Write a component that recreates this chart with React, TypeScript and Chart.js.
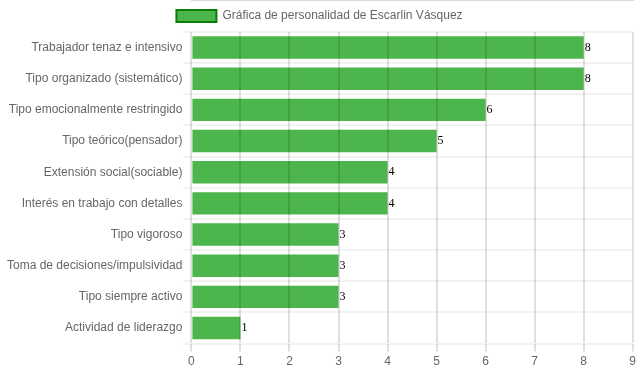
import React, { useEffect, useRef } from "react";
import { Chart, registerables } from "chart.js";

Chart.register(...registerables);

const categories = [
  "Trabajador tenaz e intensivo",
  "Tipo organizado (sistemático)",
  "Tipo emocionalmente restringido",
  "Tipo teórico(pensador)",
  "Extensión social(sociable)",
  "Interés en trabajo con detalles",
  "Tipo vigoroso",
  "Toma de decisiones/impulsividad",
  "Tipo siempre activo",
  "Actividad de liderazgo",
];
const values = [8, 8, 6, 5, 4, 4, 3, 3, 3, 1];
const seriesLabel = "Gráfica de personalidad de Escarlin Vásquez";

const valueLabels = {
  id: "valueLabels",
  afterDraw(chart: any) {
    const ctx = chart.ctx;
    const meta = chart.getDatasetMeta(0);
    ctx.save();
    ctx.fillStyle = "#000";
    ctx.font = "12px 'Liberation Serif', serif";
    ctx.textAlign = "left";
    ctx.textBaseline = "middle";
    meta.data.forEach((bar: any, i: number) => {
      ctx.fillText(String(chart.data.datasets[0].data[i]), bar.x + 1, bar.y);
    });
    ctx.restore();
  },
};

const font = { family: "'Liberation Sans', Arial, sans-serif", size: 12 };

export default function App() {
  const ref = useRef<HTMLCanvasElement>(null);
  useEffect(() => {
    if (!ref.current) return;
    const chart = new Chart(ref.current, {
      type: "bar",
      data: {
        labels: categories,
        datasets: [
          {
            label: seriesLabel,
            data: values,
            backgroundColor: "#4cb64c",
            borderColor: "#0b7d0b",
            borderWidth: 0,
            barPercentage: 0.9,
            categoryPercentage: 0.8,
          },
        ],
      },
      options: {
        indexAxis: "y",
        animation: false,
        responsive: false,
        maintainAspectRatio: false,
        layout: { padding: { left: 6, right: 6, top: 0, bottom: 0 } },
        plugins: {
          legend: {
            display: true,
            position: "top",
            labels: {
              boxWidth: 40,
              boxHeight: 12,
              color: "#666",
              font,
              generateLabels: () => [
                {
                  text: seriesLabel,
                  fillStyle: "#4cb64c",
                  strokeStyle: "#0b7d0b",
                  lineWidth: 2,
                  datasetIndex: 0,
                  fontColor: "#666",
                },
              ],
            },
          },
          tooltip: { enabled: false },
        },
        scales: {
          x: {
            min: 0,
            max: 9,
            ticks: { stepSize: 1, color: "#666", font },
            grid: { color: "rgba(0,0,0,0.12)", lineWidth: 2, z: 1 },
            border: { color: "rgba(0,0,0,0.3)", width: 1 },
          },
          y: {
            ticks: { color: "#666", font, padding: 1 },
            grid: { color: "rgba(0,0,0,0.05)", lineWidth: 2, offset: true },
            border: { display: false },
          },
        },
      },
      plugins: [valueLabels],
    });
    return () => chart.destroy();
  }, []);
  return (
    <div style={{ position: "fixed", left: 0, top: 0, width: 639, height: 372, background: "#fff" }}>
      <canvas ref={ref} width={639} height={372} style={{ display: "block", width: 639, height: 372 }} />
    </div>
  );
}
